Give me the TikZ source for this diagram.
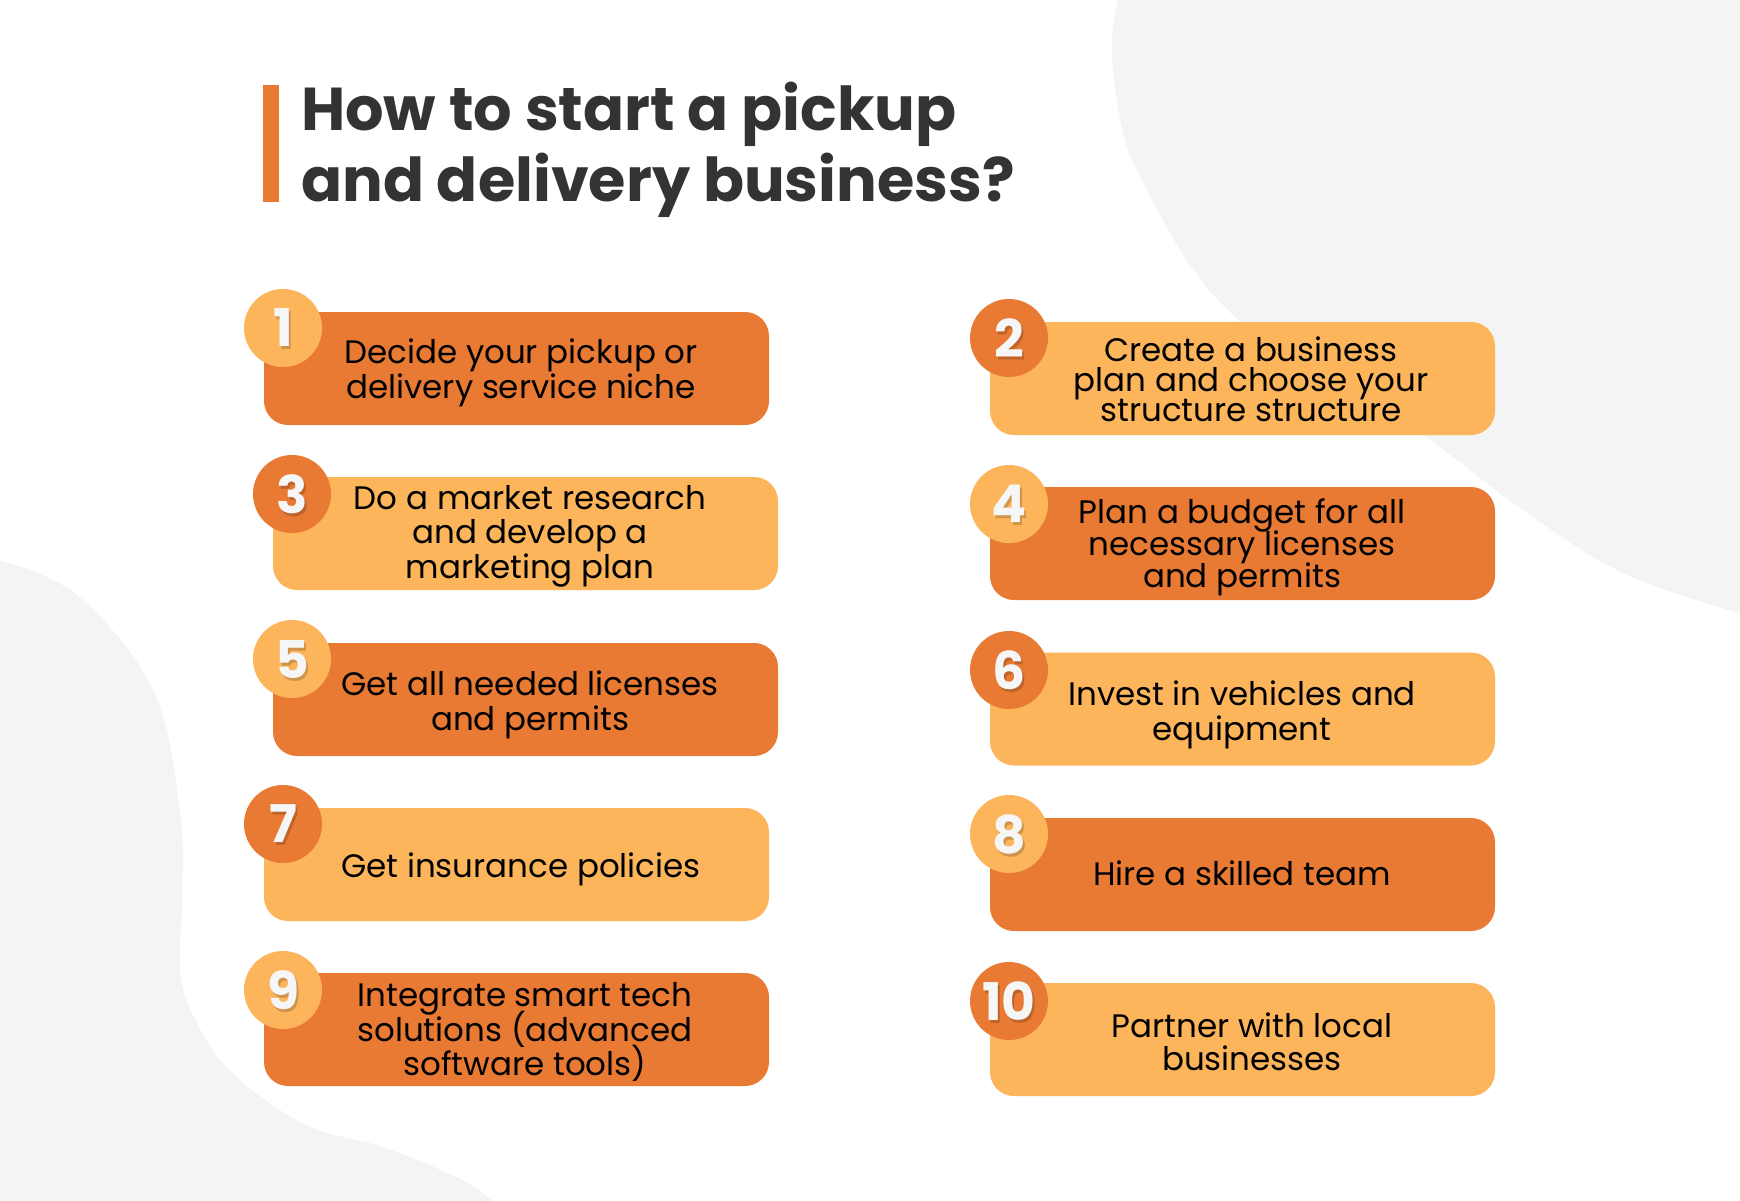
\documentclass[tikz,border=0pt]{standalone}
\usepackage{fontspec}
\setmainfont{Poppins}
\usetikzlibrary{calc}
\definecolor{dko}{HTML}{E97A33}
\definecolor{lto}{HTML}{FDB55C}
\definecolor{blob}{HTML}{F4F4F4}
\definecolor{ttl}{HTML}{333333}
\definecolor{numc}{HTML}{F6F6F6}
\newcommand\bodyfnt[1]{\fontsize{32.5}{#1}\selectfont\setlength{\lineskiplimit}{-100pt}}
\begin{document}
\begin{tikzpicture}[x=1pt,y=-1pt,
  boxbase/.style={rectangle, rounded corners=24pt, minimum width=505pt, minimum height=113pt, inner sep=0pt},
  boxdark/.style={boxbase, fill=dko},
  boxlight/.style={boxbase, fill=lto},
  circdark/.style={circle, fill=dko, minimum size=78pt, inner sep=0pt},
  circlight/.style={circle, fill=lto, minimum size=78pt, inner sep=0pt},
  txt/.style={align=center, inner sep=0pt, text=black, font=\bodyfnt{34.5}},
  txtb/.style={txt, font=\bodyfnt{33}},
  txtd/.style={txt, font=\bodyfnt{32}},
  txtc/.style={txt, font=\bodyfnt{30}},
  numtxt/.style={inner sep=0pt, text=numc, font=\bfseries\fontsize{52}{52}\selectfont},
  numshadow/.style={numtxt, text=black, opacity=0.18},
  titletxt/.style={anchor=base west, inner sep=0pt, text=ttl, font=\bfseries\fontsize{60.5}{71}\selectfont}
]
\useasboundingbox (0,0) rectangle (1740,1200);
\fill[white] (0,0) rectangle (1740,1200);
% background blobs
\fill[blob] plot[smooth, tension=0.6] coordinates {(1118,-2) (1112,54) (1125,140) (1156,207) (1191,266) (1239,320) (1330,380) (1424,436) (1523,510) (1623,573) (1742,614)} -- (1742,-2) -- cycle;
\fill[blob] plot[smooth, tension=0.6] coordinates {(-2,560) (77,595) (153,690) (180,812) (182,902) (180,969) (192,1013) (230,1071) (306,1125) (383,1147) (460,1179) (494,1202)} -- (-2,1202) -- cycle;
% title
\fill[dko] (263,85) rectangle (279,202);
\node[titletxt] (tl1) at (301,130) {How to start a pickup};
\node[titletxt] (tl2) at (301,201) {and delivery business?};
% boxes
\node[boxdark]  (b1)  at (516.5,368.5) {};
\node[boxlight] (b3)  at (525.5,533.5) {};
\node[boxdark]  (b5)  at (525.5,699.5) {};
\node[boxlight] (b7)  at (516.5,864.5) {};
\node[boxdark]  (b9)  at (516.5,1029.5) {};
\node[boxlight] (b2)  at (1242.5,378.5) {};
\node[boxdark]  (b4)  at (1242.5,543.5) {};
\node[boxlight] (b6)  at (1242.5,709) {};
\node[boxdark]  (b8)  at (1242.5,874.5) {};
\node[boxlight] (b10) at (1242.5,1039.5) {};
% texts
\node[txt] (t1) at (521,373) {Decide your pickup or\\delivery service niche};
\node[txt] (t3) at (530,536) {Do a market research\\and develop a\\marketing plan};
\node[txt] (t5) at (530,705) {Get all needed licenses\\and permits};
\node[txt] (t7) at (521,869) {Get insurance policies};
\node[txt] (t9) at (525,1032) {Integrate smart tech\\solutions (advanced\\software tools)};
\node[txtc] (t2) at (1251,379) {Create a business\\plan and choose your\\structure structure};
\node[txtd] (t4) at (1242,547) {Plan a budget for all\\necessary licenses\\and permits};
\node[txt] (t6) at (1242,715) {Invest in vehicles and\\equipment};
\node[txt] (t8) at (1242,873) {Hire a skilled team};
\node[txtb] (t10) at (1252,1042) {Partner with local\\businesses};
% circles
\node[circlight] (c1)  at (283,328) {};
\node[circdark]  (c3)  at (292,494) {};
\node[circlight] (c5)  at (292,659) {};
\node[circdark]  (c7)  at (283,824) {};
\node[circlight] (c9)  at (283,990) {};
\node[circdark]  (c2)  at (1009,338) {};
\node[circlight] (c4)  at (1009,504) {};
\node[circdark]  (c6)  at (1009,670) {};
\node[circlight] (c8)  at (1009,834) {};
\node[circdark]  (c10) at (1009,1001) {};
% numbers
\foreach \c/\n in {c1/1,c3/3,c5/5,c7/7,c9/9,c2/2,c4/4,c6/6,c8/8,c10/10}{
  \node[numshadow] at ($(\c)+(2,3)$) {\n};
  \node[numtxt] (n\c) at (\c) {\n};
}
\end{tikzpicture}
\end{document}
